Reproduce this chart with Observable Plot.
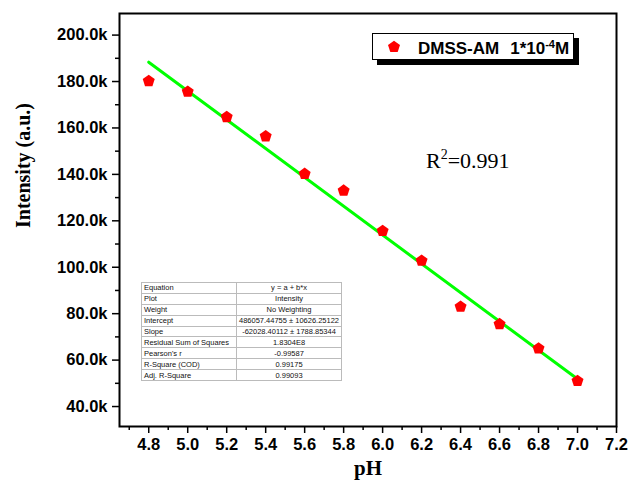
<!DOCTYPE html>
<html>
<head>
<meta charset="utf-8">
<script src="https://cdn.jsdelivr.net/npm/d3@7"></script>
<script src="https://cdn.jsdelivr.net/npm/@observablehq/plot@0.6"></script>
<style>
  body { margin: 0; background: #fff; }
  #wrap { position: relative; width: 630px; height: 488px; }
  #legend { position: absolute; left: 372px; top: 33px; width: 200px; height: 25px; border: 1.5px solid #000; background: #fff; box-shadow: 5px 5px 0 #000; font: bold 17px "Liberation Sans", Arial, sans-serif; line-height: 19px; }
  #legend svg { position: absolute; left: 13px; top: 5px; }
  #legend span.t { position: absolute; left: 45px; top: 5px; white-space: pre; }
  #legend span.c { margin-left: 11px; }
  #legend sup { font-size: 11px; vertical-align: 6px; line-height: 0; }
  #r2 { position: absolute; left: 426px; top: 148px; font: 22px "Liberation Serif", "Times New Roman", serif; white-space: nowrap; }
  #r2 sup { font-size: 14px; vertical-align: 9px; line-height: 0; }
  #tbl { position: absolute; left: 141px; top: 282px; border-collapse: collapse; border: 1px solid #888; font: 7.5px "Liberation Sans", Arial, sans-serif; color: #111; }
  #tbl td { border: 1px solid #bbb; height: 9.9px; padding: 0 2px; line-height: 9px; white-space: nowrap; }
  #tbl td.l { width: 90px; text-align: left; }
  #tbl td.v { width: 99px; text-align: center; }
</style>
</head>
<body>
<div id="wrap"></div>
<script>
const ph = [4.8, 5.0, 5.2, 5.4, 5.6, 5.8, 6.0, 6.2, 6.4, 6.6, 6.8, 7.0];
const intensity = [180200, 175600, 164700, 156400, 140200, 133000, 115600, 102800, 83000, 75500, 65000, 51000];
const fitIntercept = 486057.44755;
const fitSlope = -62028.40112;
const fitRange = [4.8, 7.0];
const xTicks = [4.8, 5.0, 5.2, 5.4, 5.6, 5.8, 6.0, 6.2, 6.4, 6.6, 6.8, 7.0, 7.2];
const xMinor = [4.7, 4.9, 5.1, 5.3, 5.5, 5.7, 5.9, 6.1, 6.3, 6.5, 6.7, 6.9, 7.1];
const yTicks = [40000, 60000, 80000, 100000, 120000, 140000, 160000, 180000, 200000];
const yMinor = [50000, 70000, 90000, 110000, 130000, 150000, 170000, 190000];
const legendName = "DMSS-AM";
const r2Label = "0.991";
const tableLabels = ["Equation", "Plot", "Weight", "Intercept", "Slope", "Residual Sum of Squares", "Pearson's r", "R-Square (COD)", "Adj. R-Square"];
const tableValues = ["y = a + b*x", "Intensity", "No Weighting", "486057.44755 ± 10626.25122", "-62028.40112 ± 1788.85344", "1.8304E8", "-0.99587", "0.99175", "0.99093"];

const pentagon = {
  draw(ctx, size) {
    const r = Math.sqrt(size / Math.PI);
    for (let i = 0; i < 5; i++) {
      const a = -Math.PI / 2 + i * 2 * Math.PI / 5;
      const px = r * Math.cos(a), py = r * Math.sin(a);
      if (i === 0) ctx.moveTo(px, py); else ctx.lineTo(px, py);
    }
    ctx.closePath();
  }
};

const data = ph.map((p, i) => ({ph: p, v: intensity[i]}));
const fit = fitRange.map(x => ({ph: x, v: fitIntercept + fitSlope * x}));
const sans = "Liberation Sans, Arial, sans-serif";
const serif = "Liberation Serif, Times New Roman, serif";

const chart = Plot.plot({
  width: 630, height: 488,
  marginLeft: 119, marginRight: 14, marginTop: 13, marginBottom: 62,
  style: {background: "#fff", color: "#000"},
  x: {domain: [4.65, 7.2]},
  y: {domain: [31400, 209300]},
  marks: [
    Plot.line(fit, {x: "ph", y: "v", stroke: "#00ff00", strokeWidth: 3}),
    Plot.dot(data, {x: "ph", y: "v", symbol: pentagon, r: 6.3, fill: "#ff0000", stroke: "none"}),
    Plot.frame({stroke: "#000", strokeWidth: 2}),
    Plot.axisX({ticks: xTicks, tickSize: 7, tickPadding: 5, tickFormat: d => d.toFixed(1), label: null, fontSize: 16.5, fontWeight: "bold", fontFamily: sans, strokeWidth: 1.5}),
    Plot.axisX({ticks: xMinor, tickSize: 4, tickFormat: () => "", label: null, strokeWidth: 1.5}),
    Plot.axisY({ticks: yTicks, tickSize: 7, tickPadding: 5, tickFormat: d => (d / 1000).toFixed(1) + "k", label: null, fontSize: 16.5, fontWeight: "bold", fontFamily: sans, strokeWidth: 1.5}),
    Plot.axisY({ticks: yMinor, tickSize: 4, tickFormat: () => "", label: null, strokeWidth: 1.5}),
    Plot.text(["pH"], {frameAnchor: "bottom", dy: 48, fontSize: 21, fontWeight: "bold", fontFamily: serif, fill: "#000"}),
    Plot.text(["Intensity (a.u.)"], {frameAnchor: "left", dx: -96, dy: 8, rotate: -90, fontSize: 20, fontWeight: "bold", fontFamily: serif, fill: "#000"})
  ]
});

const wrap = document.getElementById("wrap");
wrap.appendChild(chart);

const legend = document.createElement("div");
legend.id = "legend";
legend.innerHTML = `<svg width="16" height="16" viewBox="-8 -8 16 16"><path d="${d3.symbol(pentagon, Math.PI * 6.3 * 6.3)()}" fill="#ff0000"/></svg><span class="t">${legendName}<span class="c">1*10<sup>-4</sup>M</span></span>`;
wrap.appendChild(legend);

const r2 = document.createElement("div");
r2.id = "r2";
r2.innerHTML = `R<sup>2</sup>=${r2Label}`;
wrap.appendChild(r2);

const tbl = document.createElement("table");
tbl.id = "tbl";
tbl.innerHTML = tableLabels.map((l, i) => `<tr><td class="l">${l}</td><td class="v">${tableValues[i]}</td></tr>`).join("");
wrap.appendChild(tbl);
</script>
</body>
</html>
